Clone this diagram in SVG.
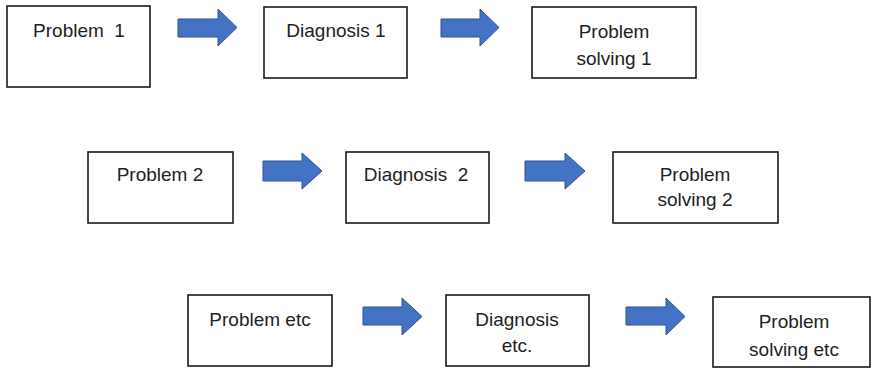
<svg xmlns="http://www.w3.org/2000/svg" width="872" height="368" viewBox="0 0 872 368">
  <style>
    .box { fill: #ffffff; stroke: #1a1a1a; stroke-width: 1.6; }
    .lbl { font-family: "Liberation Sans", Arial, sans-serif; font-size: 19px; fill: #222222; text-anchor: middle; }
    .arr { fill: #4472C4; stroke: #2F528F; stroke-width: 1; }
  </style>
  <rect width="872" height="368" fill="#ffffff"/>

  <g id="problem1">
    <rect class="box" x="7" y="6" width="143" height="81"/>
    <text class="lbl" x="79" y="37" xml:space="preserve">Problem  1</text>
  </g>
  <g id="diagnosis1">
    <rect class="box" x="264" y="7" width="143" height="71"/>
    <text class="lbl" x="336" y="37">Diagnosis 1</text>
  </g>
  <g id="solving1">
    <rect class="box" x="532" y="7" width="164" height="71"/>
    <text class="lbl" x="614" y="38">Problem</text>
    <text class="lbl" x="614" y="65">solving 1</text>
  </g>

  <g id="problem2">
    <rect class="box" x="88" y="152" width="145" height="71"/>
    <text class="lbl" x="160" y="181">Problem 2</text>
  </g>
  <g id="diagnosis2">
    <rect class="box" x="346" y="152" width="143" height="71"/>
    <text class="lbl" x="416" y="181" xml:space="preserve">Diagnosis  2</text>
  </g>
  <g id="solving2">
    <rect class="box" x="613" y="152" width="165" height="71"/>
    <text class="lbl" x="695" y="181">Problem</text>
    <text class="lbl" x="695" y="206">solving 2</text>
  </g>

  <g id="problemetc">
    <rect class="box" x="188" y="295" width="144" height="71"/>
    <text class="lbl" x="260" y="326">Problem etc</text>
  </g>
  <g id="diagnosisetc">
    <rect class="box" x="446" y="295" width="143" height="71"/>
    <text class="lbl" x="517" y="326">Diagnosis</text>
    <text class="lbl" x="517" y="352">etc.</text>
  </g>
  <g id="solvingetc">
    <rect class="box" x="713" y="297" width="157" height="70"/>
    <text class="lbl" x="794" y="328">Problem</text>
    <text class="lbl" x="794" y="356">solving etc</text>
  </g>

  <g id="connectors">
    <polygon class="arr" points="178,19 218,19 218,9 237,27.5 218,46 218,37 178,37"/>
    <polygon class="arr" points="441,19 480,19 480,9 499,27.5 480,46 480,37 441,37"/>
    <polygon class="arr" points="263,161 302,161 302,153 322,171 302,189 302,181 263,181"/>
    <polygon class="arr" points="525,161 565,161 565,153 585,171 565,189 565,181 525,181"/>
    <polygon class="arr" points="363,307 402,307 402,298 422,316.5 402,335 402,325 363,325"/>
    <polygon class="arr" points="626,307 666,307 666,298 685,316.5 666,335 666,325 626,325"/>
  </g>
</svg>
